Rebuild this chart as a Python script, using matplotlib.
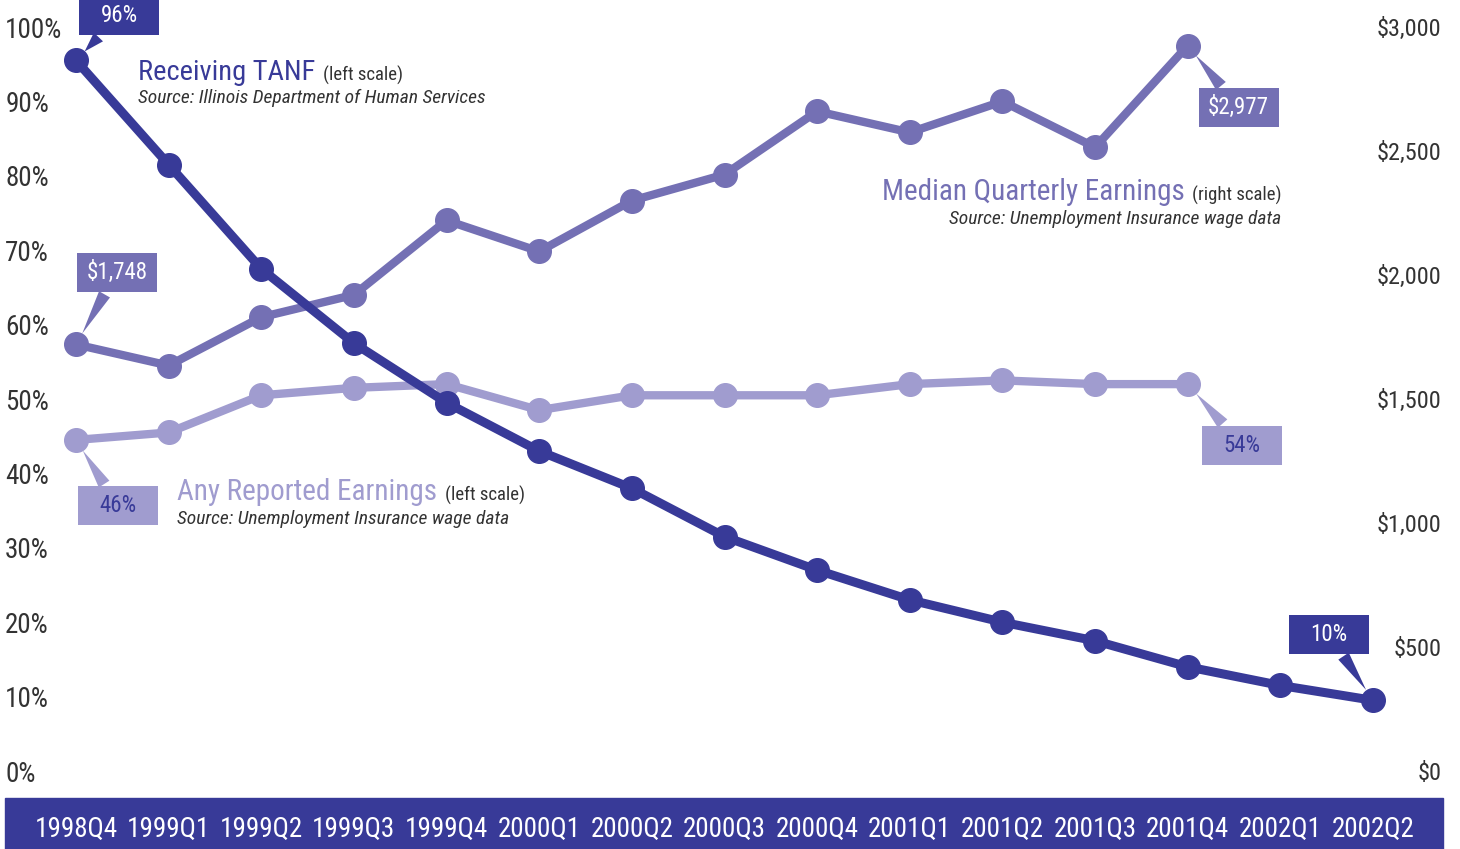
import matplotlib
matplotlib.use('Agg')
import matplotlib.pyplot as plt
from matplotlib.patches import Rectangle
from matplotlib.path import Path

plt.rcParams['font.family'] = ['Roboto Condensed', 'Liberation Sans Narrow', 'Arial Narrow',
                               'Roboto', 'DejaVu Sans']

quarters = ['1998Q4', '1999Q1', '1999Q2', '1999Q3', '1999Q4', '2000Q1', '2000Q2', '2000Q3',
            '2000Q4', '2001Q1', '2001Q2', '2001Q3', '2001Q4', '2002Q1', '2002Q2']
tanf = [95.5, 81.5, 67.5, 57.5, 49.5, 43, 38, 31.5, 27, 23, 20, 17.5, 14, 11.5, 9.5]
any_earn = [44.5, 45.5, 50.5, 51.5, 52, 48.5, 50.5, 50.5, 50.5, 52, 52.5, 52, 52]
median_earn = [1720, 1635, 1830, 1920, 2220, 2095, 2300, 2405, 2660, 2575, 2700, 2515, 2925]

left_ticks = list(range(0, 101, 10))
left_labels = [f'{v}%' for v in left_ticks]
right_ticks = [0, 500, 1000, 1500, 2000, 2500, 3000]
right_labels = [r'\$0', r'\$500', r'\$1,000', r'\$1,500', r'\$2,000', r'\$2,500', r'\$3,000']

navy = '#383a98'
med_c = '#7470b4'
any_c = '#a09ccf'
grey = '#333333'

W, H = 1460, 849
fig = plt.figure(figsize=(14.6, 8.49), dpi=100)
ax = fig.add_axes([76 / W, 1 - 771 / H, (1373 - 76) / W, (771 - 27) / H])
ax2 = ax.twinx()
for a in (ax, ax2):
    for s in a.spines.values():
        s.set_visible(False)

ax.set_xlim(0, 14)
ax.set_ylim(0, 100)
ax2.set_ylim(0, 3000)

ax.set_yticks(left_ticks, left_labels)
ax.tick_params(axis='y', length=0, pad=51, labelsize=19.5, labelcolor=grey)
for lab in ax.get_yticklabels():
    lab.set_ha('left')
ax2.set_yticks(right_ticks, right_labels)
ax2.tick_params(axis='y', length=0, pad=49.5, labelsize=17.5, labelcolor=grey)
for lab in ax2.get_yticklabels():
    lab.set_ha('right')

x = list(range(len(quarters)))
ax.set_xticks(x, quarters)
ax.tick_params(axis='x', length=0, pad=32.5, labelsize=19.5, labelcolor='white')

# dark band behind the quarter labels
fig.patches.append(Rectangle((5 / W, 0), (1443 - 5) / W, (849 - 798) / H,
                             transform=fig.transFigure, color=navy, zorder=-1))

ax2.plot(x[:len(median_earn)], median_earn, color=med_c, lw=6, marker='o', ms=17, clip_on=False)
ax.plot(x[:len(any_earn)], any_earn, color=any_c, lw=6, marker='o', ms=17, clip_on=False)
ax.plot(x, tanf, color=navy, lw=6.5, marker='o', ms=17, clip_on=False)
ax.set_zorder(2)
ax.patch.set_visible(False)


def fixed_box(x0, y0, width, height, mutation_size):
    # 80 x 39 px label box, centred on the text
    cx, cy = x0 + width / 2, y0 + height / 2
    w, h = 80, 39
    return Path([(cx - w / 2, cy - h / 2), (cx + w / 2, cy - h / 2), (cx + w / 2, cy + h / 2),
                 (cx - w / 2, cy + h / 2), (cx - w / 2, cy - h / 2)], closed=True)


def callout(a, xi, yi, text, dx, dy, fc, tc):
    a.annotate(text, xy=(xi, yi), xytext=(dx, dy), textcoords='offset pixels',
               ha='center', va='center', fontsize=16.5, color=tc, annotation_clip=False,
               bbox=dict(boxstyle=fixed_box, fc=fc, ec='none'),
               arrowprops=dict(arrowstyle='wedge,tail_width=0.55,shrink_factor=0.5',
                               fc=fc, ec='none', shrinkB=9))


callout(ax, 0, tanf[0], '96%', 43, 45, navy, 'white')
callout(ax, 14, tanf[-1], '10%', -44, 66, navy, 'white')
callout(ax2, 0, median_earn[0], r'\$1,748', 41, 72, med_c, 'white')
callout(ax2, 12, median_earn[-1], r'\$2,977', 51, -62, med_c, 'white')
callout(ax, 0, any_earn[0], '46%', 42, -66, any_c, navy)
callout(ax, 12, any_earn[-1], '54%', 54, -61, any_c, navy)


def px(xp, yp):
    return xp / W, 1 - yp / H


# series titles
t = fig.text(*px(138, 86), 'Receiving TANF', fontsize=20.5, color=navy, va='bottom')
ax.annotate('(left scale)', xy=(1, 0), xycoords=t, xytext=(8, 1), textcoords='offset pixels',
            fontsize=13.5, color=grey, va='bottom', annotation_clip=False)
fig.text(*px(138, 107), 'Source: Illinois Department of Human Services', fontsize=14,
         style='italic', color=grey, va='bottom')

t = fig.text(*px(177, 506), 'Any Reported Earnings', fontsize=21, color=any_c, va='bottom')
ax.annotate('(left scale)', xy=(1, 0), xycoords=t, xytext=(8, 1), textcoords='offset pixels',
            fontsize=13.5, color=grey, va='bottom', annotation_clip=False)
fig.text(*px(177, 528), 'Source: Unemployment Insurance wage data', fontsize=14,
         style='italic', color=grey, va='bottom')

t = fig.text(*px(1281, 205), '(right scale)', fontsize=13.5, color=grey, va='bottom', ha='right')
ax.annotate('Median Quarterly Earnings', xy=(0, 0), xycoords=t, xytext=(-7, -1),
            textcoords='offset pixels', fontsize=21, color=med_c, va='bottom', ha='right',
            annotation_clip=False)
fig.text(*px(1281, 228), 'Source: Unemployment Insurance wage data', fontsize=14,
         style='italic', color=grey, va='bottom', ha='right')

fig.savefig('out.png', dpi=100)
